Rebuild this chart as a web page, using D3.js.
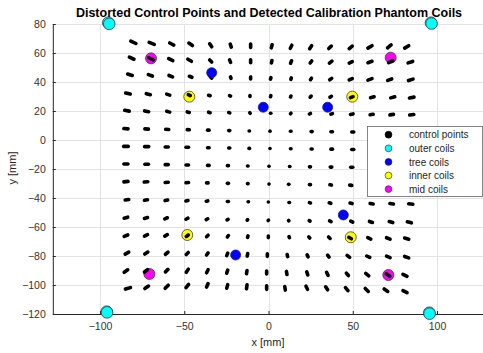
<!DOCTYPE html>
<html>
<head>
<meta charset="utf-8">
<script src="https://cdn.jsdelivr.net/npm/d3@7"></script>
<style>
  html, body { margin: 0; padding: 0; background: #fff; }
  svg { display: block; font-family: "Liberation Sans", Arial, sans-serif; }
</style>
</head>
<body>
<div id="chart"></div>
<script>
// ---- data (mm) ----
// control point centres, one row of 15 per grid line (top -> bottom)
const ctrlX = [
  [-80.2, -69.3, -57.4, -46.2, -34.3, -22.4, -10.6, 1.9, 13.4, 25.0, 36.5, 48.8, 60.2, 71.7, 82.0],
  [-81.2, -69.7, -58.0, -46.8, -34.3, -22.8, -10.6, 1.9, 13.4, 25.2, 36.9, 48.8, 60.2, 72.5, 84.2],
  [-82.2, -70.1, -58.0, -46.2, -34.1, -22.4, -10.6, 1.3, 13.4, 25.2, 36.9, 48.8, 60.2, 71.9, 84.4],
  [-83.4, -71.3, -59.5, -47.0, -35.1, -22.8, -11.0, 1.3, 13.2, 25.0, 36.9, 49.4, 61.6, 73.7, 85.0],
  [-84.0, -72.3, -59.5, -47.6, -35.1, -23.3, -11.0, 1.3, 13.2, 24.6, 37.5, 49.4, 61.2, 73.1, 85.0],
  [-84.6, -72.3, -60.1, -47.6, -35.7, -23.3, -11.4, 0.9, 13.2, 25.6, 37.5, 50.0, 61.6, 73.1, 85.0],
  [-84.6, -72.3, -60.4, -48.2, -35.7, -23.3, -11.4, 0.9, 13.2, 25.6, 37.5, 50.0, 61.6, 73.3, 85.0],
  [-84.6, -72.3, -60.4, -48.2, -35.7, -24.1, -12.3, 0.3, 12.6, 24.6, 37.1, 49.4, 61.2, 73.1, 84.8],
  [-84.6, -72.7, -60.4, -48.2, -36.3, -24.1, -12.3, 0.3, 12.0, 24.6, 36.9, 48.8, 61.2, 73.1, 84.6],
  [-84.0, -72.7, -60.6, -48.4, -36.5, -24.1, -12.0, -0.1, 12.3, 24.6, 36.5, 49.0, 61.2, 73.1, 84.4],
  [-84.6, -72.7, -60.8, -48.4, -36.5, -24.3, -12.5, -0.1, 12.0, 24.4, 36.7, 49.4, 60.8, 72.7, 83.6],
  [-84.6, -72.7, -60.8, -48.2, -36.3, -24.1, -12.3, -0.1, 12.3, 24.2, 36.1, 48.4, 59.8, 71.1, 82.0],
  [-84.0, -72.5, -60.4, -48.2, -36.3, -24.5, -12.5, -0.7, 11.2, 23.2, 35.5, 47.4, 59.2, 71.1, 82.0],
  [-84.6, -72.7, -60.4, -48.2, -36.3, -24.5, -12.9, -1.1, 10.8, 23.0, 34.9, 46.8, 58.6, 70.9, 81.0],
  [-83.4, -72.3, -60.4, -48.2, -36.3, -24.5, -12.9, -1.1, 9.8, 22.7, 34.5, 46.4, 58.3, 69.7, 81.0]
];
const ctrlY = [
  [67.4, 66.6, 66.2, 66.0, 65.3, 65.1, 65.0, 64.6, 64.3, 64.0, 63.9, 63.9, 64.2, 64.6, 64.2],
  [56.4, 56.0, 55.4, 55.0, 54.5, 54.4, 54.3, 54.0, 53.8, 53.8, 53.7, 53.6, 53.8, 54.0, 53.7],
  [45.0, 44.6, 44.0, 43.6, 43.2, 43.0, 42.8, 42.5, 42.3, 42.1, 42.0, 41.9, 41.8, 41.6, 41.5],
  [32.0, 31.6, 31.3, 31.0, 30.7, 30.5, 30.3, 30.2, 30.0, 29.9, 29.8, 29.6, 29.5, 29.4, 29.3],
  [20.2, 19.8, 19.5, 19.2, 19.0, 18.8, 18.6, 18.5, 18.3, 18.1, 18.0, 17.8, 17.6, 17.5, 17.4],
  [7.8, 7.6, 7.3, 7.1, 6.8, 6.5, 6.2, 6.1, 6.0, 5.8, 5.7, 5.5, 5.4, 5.3, 5.2],
  [-4.4, -4.6, -4.8, -5.0, -5.3, -5.5, -5.8, -5.9, -6.0, -6.2, -6.3, -6.5, -6.6, -6.7, -6.8],
  [-16.6, -16.7, -17.0, -17.2, -17.5, -17.7, -17.9, -18.1, -18.3, -18.5, -18.7, -18.8, -19.0, -19.1, -19.2],
  [-28.7, -28.9, -29.2, -29.4, -29.6, -29.9, -30.1, -30.4, -30.6, -30.8, -31.0, -31.2, -31.3, -31.4, -31.5],
  [-41.2, -41.4, -41.6, -41.9, -42.1, -42.4, -42.6, -42.8, -43.1, -43.3, -43.5, -43.7, -43.9, -44.0, -44.1],
  [-53.6, -53.8, -54.0, -54.3, -54.6, -54.9, -55.1, -55.4, -55.6, -55.8, -56.0, -56.3, -56.5, -56.6, -56.8],
  [-66.0, -65.8, -65.8, -66.0, -66.2, -66.4, -66.6, -66.8, -67.0, -67.2, -67.4, -67.6, -67.8, -67.9, -68.0],
  [-78.0, -78.0, -78.1, -78.3, -78.6, -78.9, -79.2, -79.4, -79.7, -79.9, -80.1, -80.3, -80.5, -80.6, -80.8],
  [-90.4, -90.2, -90.1, -90.2, -90.5, -90.8, -91.1, -91.4, -91.7, -92.0, -92.3, -92.6, -92.9, -93.1, -93.3],
  [-102.3, -101.6, -101.2, -100.7, -100.2, -101.0, -101.2, -101.8, -102.3, -101.9, -102.3, -102.8, -103.4, -103.6, -104.6]
];
// spread of each control point across the slices (streak vector, mm)
const streakDX = [
  [3.0, 3.0, 2.4, 2.1, 1.2, 0.6, 0.0, 0.5, 0.9, 1.2, 1.5, 1.8, 2.4, 2.1, 2.4],
  [2.7, 2.7, 2.4, 2.1, 1.2, 0.6, 0.0, 0.3, 0.6, 0.9, 1.5, 1.8, 2.4, 2.4, 2.7],
  [2.7, 2.4, 2.1, 1.5, 0.9, 0.3, 0.0, 0.3, 0.3, 0.6, 1.2, 1.8, 2.4, 2.4, 2.7],
  [2.7, 2.4, 1.8, 1.2, 0.9, 0.6, 0.0, 0.2, 0.3, 0.6, 0.9, 1.5, 2.1, 2.4, 2.7],
  [2.7, 2.4, 1.8, 1.2, 0.9, 0.6, 0.3, 0.2, 0.3, 0.6, 0.9, 1.5, 1.8, 2.1, 2.4],
  [2.4, 2.1, 1.8, 1.2, 0.9, 0.6, 0.2, 0.0, 0.3, 0.6, 0.9, 1.2, 1.8, 2.1, 2.4],
  [2.7, 2.4, 1.8, 1.5, 0.9, 0.6, 0.3, 0.0, 0.3, 0.6, 0.9, 1.2, 1.8, 2.1, 2.4],
  [2.4, 2.1, 1.8, 1.5, 0.9, 0.6, 0.3, 0.0, 0.2, 0.6, 0.9, 1.2, 1.8, 2.1, 2.4],
  [2.4, 2.1, 1.8, 1.5, 0.9, 0.6, 0.3, 0.0, 0.2, 0.6, 0.9, 1.2, 1.8, 2.1, 2.4],
  [2.1, 1.8, 1.5, 1.2, 0.9, 0.6, 0.2, 0.0, 0.3, 0.6, 0.9, 1.2, 1.8, 2.1, 2.4],
  [2.1, 1.8, 1.5, 1.2, 0.9, 0.6, 0.3, 0.2, 0.2, 0.5, 0.9, 1.2, 1.8, 2.1, 2.4],
  [2.1, 1.8, 1.5, 1.2, 0.9, 0.6, 0.3, 0.0, 0.3, 0.6, 0.9, 1.5, 1.8, 2.1, 2.4],
  [2.1, 1.8, 1.5, 1.2, 0.9, 0.6, 0.3, 0.0, 0.3, 0.6, 0.9, 1.5, 1.8, 2.1, 2.4],
  [2.1, 1.8, 1.5, 1.2, 0.9, 0.6, 0.3, 0.0, 0.3, 0.6, 0.9, 1.2, 1.8, 2.1, 2.4],
  [3.0, 2.1, 1.8, 1.5, 0.9, 0.6, 0.3, 0.0, 0.3, 0.9, 1.2, 1.5, 1.8, 2.1, 2.4]
];
const streakDY = [
  [-1.7, -1.4, -1.4, -1.7, -2.1, -2.1, -2.4, 2.1, 2.1, 2.1, 1.7, 1.7, 1.7, 2.1, 1.7],
  [-1.4, -1.4, -1.4, -1.4, -1.4, -1.7, -2.1, 1.7, 1.7, 1.4, 1.4, 1.0, 1.0, 1.4, 1.0],
  [-1.0, -1.0, -1.0, -0.7, -1.0, -1.0, -1.4, 1.0, 1.0, 1.0, 1.0, 1.0, 1.0, 1.0, 1.0],
  [-0.7, -0.7, -0.7, -0.7, -0.35, -0.35, -0.7, 0.7, 0.55, 0.7, 0.7, 0.7, 0.7, 0.7, 0.55],
  [-0.55, -0.55, -0.55, -0.35, -0.35, -0.2, -0.35, 0, 0.35, 0.35, 0.35, 0.35, 0.35, 0.35, 0.35],
  [-0.2, -0.2, -0.15, -0.15, 0, 0, 0, 0, 0, 0, 0, 0, 0, 0, 0],
  [0, 0, 0, 0, 0, 0, 0, 0, 0, 0, 0, 0, 0, 0, 0],
  [0, 0, 0, 0, 0, 0, 0, 0, 0, 0, 0, 0, 0, 0, 0],
  [0.35, 0.2, 0.2, 0.2, 0, 0, 0, 0, 0, 0, -0.2, -0.2, -0.2, -0.2, -0.35],
  [0.35, 0.35, 0.35, 0.35, 0.2, 0, 0, 0, 0, -0.2, -0.35, -0.35, -0.35, -0.35, -0.35],
  [0.7, 0.7, 0.7, 0.7, 0.55, 0.35, 0.35, 0.2, -0.35, -0.35, -0.55, -0.7, -0.7, -0.7, -0.7],
  [1.0, 1.0, 1.0, 1.0, 1.0, 1.0, 1.0, 1.0, -0.8, -0.8, -1.0, -1.0, -1.0, -1.0, -0.8],
  [1.4, 1.4, 1.4, 1.4, 1.4, 1.7, 1.7, 1.7, -1.4, -1.4, -1.4, -1.4, -1.0, -1.0, -1.0],
  [1.7, 1.7, 1.7, 2.1, 2.1, 2.1, 2.1, 2.1, -2.1, -2.1, -2.1, -1.7, -1.7, -1.7, -1.4],
  [1.0, 1.7, 2.1, 2.1, 2.4, 2.4, 2.8, 2.4, -2.4, -2.1, -2.1, -2.1, -2.1, -1.7, -1.4]
];

// detected coils (two detections per outer coil)
const outerX = [-95.1, -94.5, 96.4, 96.8, -96.0, -95.8, 95.4, 95.6];
const outerY = [80.9, 80.1, 80.9, 80.3, -118.4, -118.9, -119.1, -119.8];
const treeX = [-33.7, -3.1, 35.1, 44.4, -19.5];
const treeY = [46.4, 22.6, 22.6, -51.7, -79.3];
const innerX = [-47.0, 49.7, -48.2, 48.8];
const innerY = [29.9, 29.9, -65.5, -67.1];
const midX = [-69.7, 72.5, -70.7, 71.1];
const midY = [56.3, 56.8, -92.4, -93.1];

const xTicks = [-100, -50, 0, 50, 100];
const yTicks = [-120, -100, -80, -60, -40, -20, 0, 20, 40, 60, 80];
const legendLabels = ["control points", "outer coils", "tree coils", "inner coils", "mid coils"];

// ---- layout ----
const W = 483, H = 353;
const svg = d3.select("#chart").append("svg").attr("width", W).attr("height", H);
svg.append("rect").attr("width", W).attr("height", H).attr("fill", "#fff");

const x = d3.scaleLinear().domain([-128, 128]).range([52.8, 484.2]);
const y = d3.scaleLinear().domain([-120, 80]).range([314, 24]);

// grid
const grid = svg.append("g").attr("stroke", "#e3e3e3").attr("stroke-width", 1);
grid.selectAll("line.gx").data(xTicks).join("line").attr("class", "gx")
  .attr("x1", d => Math.round(x(d)) + 0.5).attr("x2", d => Math.round(x(d)) + 0.5)
  .attr("y1", y(80)).attr("y2", y(-120));
grid.selectAll("line.gy").data(yTicks).join("line").attr("class", "gy")
  .attr("y1", d => Math.round(y(d)) + 0.5).attr("y2", d => Math.round(y(d)) + 0.5)
  .attr("x1", x(-128)).attr("x2", W);

// axes
const xAxis = svg.append("g").attr("transform", `translate(0,${y(-120)})`)
  .call(d3.axisBottom(x).tickValues(xTicks).tickSize(-3).tickPadding(9).tickSizeOuter(0));
const yAxis = svg.append("g").attr("transform", `translate(${x(-128)},0)`)
  .call(d3.axisLeft(y).tickValues(yTicks).tickSize(-3).tickPadding(7).tickSizeOuter(0));
[xAxis, yAxis].forEach(g => {
  g.select(".domain").attr("stroke", "#262626").attr("stroke-width", 1);
  g.selectAll(".tick line").attr("stroke", "#262626");
  g.selectAll(".tick text").attr("fill", "#333").attr("font-size", 10.5)
    .attr("font-family", "'Liberation Sans', Arial, sans-serif");
});

// marker helpers
function coils(xs, ys, fill, edge, r) {
  svg.append("g").selectAll("circle").data(xs.map((v, i) => [v, ys[i]])).join("circle")
    .attr("cx", d => x(d[0])).attr("cy", d => y(d[1])).attr("r", r)
    .attr("fill", fill).attr("stroke", edge).attr("stroke-width", 0.8);
}

// inner & mid coils sit under their control point
coils(innerX, innerY, "#ffff00", "#3a3a3a", 5.5);
coils(midX, midY, "#ff00ff", "#3a3a3a", 5.5);

// control points: one short streak per grid node
const pts = [];
ctrlX.forEach((row, r) => row.forEach((v, c) => {
  pts.push({ x: v, y: ctrlY[r][c], dx: streakDX[r][c], dy: streakDY[r][c] });
}));
svg.append("g").selectAll("path").data(pts).join("path")
  .attr("d", d => {
    const x1 = x(d.x - d.dx / 2), y1 = y(d.y - d.dy / 2);
    const x2 = x(d.x + d.dx / 2) + 0.01, y2 = y(d.y + d.dy / 2);
    return `M${x1},${y1}L${x2},${y2}`;
  })
  .attr("stroke", "#000").attr("stroke-width", 3.6).attr("stroke-linecap", "round").attr("fill", "none");

// tree & outer coils drawn on top
coils(treeX, treeY, "#0000ff", "#1a1a80", 5);
coils(outerX, outerY, "#00ffff", "#3a3a3a", 5.8);

// title and labels
svg.append("text").attr("x", 269).attr("y", 17).attr("text-anchor", "middle")
  .attr("font-size", 12.5).attr("font-weight", "bold").attr("fill", "#000")
  .text("Distorted Control Points and Detected Calibration Phantom Coils");
svg.append("text").attr("x", 268).attr("y", 346).attr("text-anchor", "middle")
  .attr("font-size", 11).attr("fill", "#262626").text("x [mm]");
svg.append("text").attr("transform", "translate(16,168) rotate(-90)").attr("text-anchor", "middle")
  .attr("font-size", 11).attr("fill", "#262626").text("y [mm]");

// legend
const lg = svg.append("g").attr("transform", "translate(367.5,126.5)");
lg.append("rect").attr("width", 115).attr("height", 70).attr("fill", "#fff")
  .attr("stroke", "#666").attr("stroke-width", 0.8);
const legendColors = ["#000", "#00ffff", "#0000ff", "#ffff00", "#ff00ff"];
const legendEdges = ["#000", "#3a3a3a", "#1a1a80", "#3a3a3a", "#3a3a3a"];
const items = lg.selectAll("g.item").data(legendLabels).join("g").attr("class", "item")
  .attr("transform", (d, i) => `translate(0,${8.2 + i * 13.6})`);
items.append("circle").attr("cx", 21).attr("r", 3.4)
  .attr("fill", (d, i) => legendColors[i]).attr("stroke", (d, i) => legendEdges[i]).attr("stroke-width", 0.7);
items.append("text").attr("x", 41.5).attr("y", 3.6).attr("font-size", 10).attr("fill", "#262626").text(d => d);
</script>
</body>
</html>
